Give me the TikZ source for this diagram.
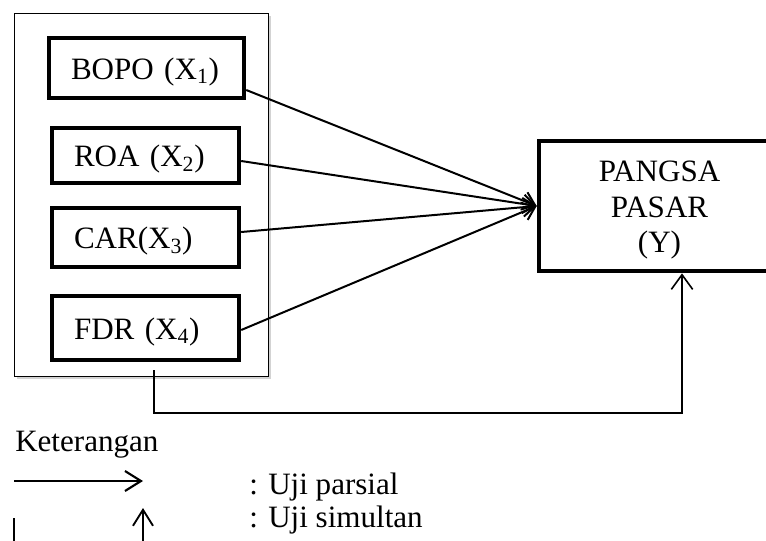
\documentclass[tikz,border=0pt]{standalone}
\usepackage{fontspec}
\setmainfont{Liberation Serif}
\usetikzlibrary{arrows.meta,calc,shadows}
\begin{document}
\begin{tikzpicture}[x=0.75pt,y=-0.75pt,
  font=\fontsize{23.3}{26.6}\selectfont,
  varbox/.style={draw, line width=3.3pt, align=left, inner xsep=16.5pt, inner ysep=0pt,
     text height=16.5pt, text depth=0pt, text width=107.25pt},
  tip/.style={-{Straight Barb[length=9pt,width=14pt]}},
  bigtip/.style={-{Straight Barb[length=12pt,width=15pt]}},
  partial/.style={tip, line width=1.5pt},
  legtext/.style={anchor=base west, inner sep=0pt}]
\useasboundingbox (0,0) rectangle (766,540);
\clip (0,0) rectangle (766,540);

% outer group box
\node[draw, line width=1.1pt, fill=white, minimum width=190.5pt, minimum height=272.25pt,
  inner sep=0pt, drop shadow={shadow xshift=1.8pt, shadow yshift=-1.8pt, opacity=0.35}]
  (grp) at (141.5,195) {};

% variable boxes
\node[varbox, text width=113.25pt, minimum height=45pt] (bopo) at (146.5,68) {BOPO (X\textsubscript{1})};
\node[varbox, minimum height=41.25pt] (roa) at (145.5,155.5) {ROA (X\textsubscript{2})};
\node[varbox, minimum height=44.25pt] (car) at (145.5,237.5) {CAR(X\textsubscript{3})};
\node[varbox, minimum height=48pt] (fdr) at (145.5,328) {FDR (X\textsubscript{4})};

% dependent variable
\node[draw, line width=3.5pt, minimum width=180.75pt, minimum height=97.5pt, align=center,
  inner sep=0pt, text width=170pt, text height=22pt, text depth=58.2pt]
  (pangsa) at (659.5,206) {PANGSA\\PASAR\\(Y)};

% partial arrows
\draw[partial] ($(bopo.east)+(0,22)$) -- (pangsa.west);
\draw[partial] ($(roa.east)+(0,5.5)$) -- (pangsa.west);
\draw[partial] ($(car.east)+(0,-5.5)$) -- (pangsa.west);
\draw[partial] ($(fdr.east)+(0,2)$) -- (pangsa.west);

% simultaneous connector
\coordinate (sstart) at (154,370);
\coordinate (send) at ($(pangsa.south)+(22.5,0)$);
\draw[-{Straight Barb[length=11pt,width=16pt]}, line width=1.2pt] (sstart) -- (154,413) -| (send);

% legend
\node[legtext] (ket) at (15,451) {Keterangan};
\node[legtext] (lp) at (249,494) {: Uji parsial};
\node[legtext] (ls) at (249,527) {: Uji simultan};
\coordinate (la1) at (14,481);
\coordinate (la2) at (143,481);
\draw[bigtip, line width=1.6pt] (la1) -- (la2);
\coordinate (lb1) at (14,518);
\coordinate (lb2) at (14,545);
\draw[line width=1.2pt] (lb1) -- (lb2);
\coordinate (lc1) at (143,545);
\coordinate (lc2) at (143,508);
\draw[bigtip, line width=1.4pt] (lc1) -- (lc2);
\end{tikzpicture}
\end{document}
